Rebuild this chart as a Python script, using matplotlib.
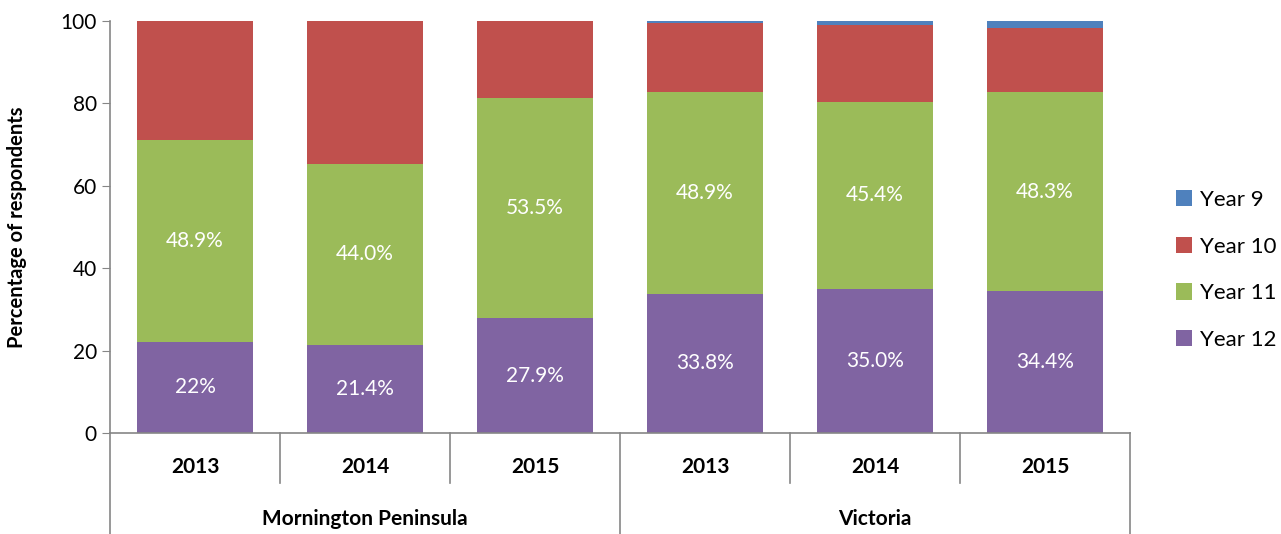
import matplotlib
matplotlib.use("Agg")
import matplotlib.pyplot as plt
import matplotlib.transforms as mtransforms

# Data
groups = ["Mornington Peninsula", "Victoria"]
years = ["2013", "2014", "2015"]
year12 = [22.2, 21.4, 27.9, 33.8, 35.0, 34.4]
year11 = [48.9, 44.0, 53.5, 48.9, 45.4, 48.3]
year10 = [28.9, 34.6, 18.6, 16.7, 18.7, 15.7]
year9 = [0.0, 0.0, 0.0, 0.6, 0.9, 1.6]
year12_labels = ["22%", "21.4%", "27.9%", "33.8%", "35.0%", "34.4%"]
year11_labels = ["48.9%", "44.0%", "53.5%", "48.9%", "45.4%", "48.3%"]

colors = {"Year 9": "#4F81BD", "Year 10": "#C0504D",
          "Year 11": "#9BBB59", "Year 12": "#8064A2"}
axis_col = "#868686"

plt.rcParams["font.family"] = ["Lato", "DejaVu Sans"]

fig = plt.figure(figsize=(12.81, 5.34), dpi=100)
ax = fig.add_axes([110 / 1281, 101 / 534, 1020 / 1281, 412 / 534])

xs = list(range(len(year12)))
width = 0.68
b12 = ax.bar(xs, year12, width, color=colors["Year 12"], label="Year 12")
bottom = year12
b11 = ax.bar(xs, year11, width, bottom=bottom, color=colors["Year 11"], label="Year 11")
bottom = [a + b for a, b in zip(bottom, year11)]
b10 = ax.bar(xs, year10, width, bottom=bottom, color=colors["Year 10"], label="Year 10")
bottom = [a + b for a, b in zip(bottom, year10)]
b9 = ax.bar(xs, year9, width, bottom=bottom, color=colors["Year 9"], label="Year 9")

# Data labels
for x, v, lab in zip(xs, year12, year12_labels):
    ax.text(x, v / 2, lab, ha="center", va="center", color="white", fontsize=15)
for x, b, v, lab in zip(xs, year12, year11, year11_labels):
    ax.text(x, b + v / 2, lab, ha="center", va="center", color="white", fontsize=15)

ax.set_xlim(-0.5, len(xs) - 0.5)
ax.set_ylim(0, 100)
ax.set_yticks(range(0, 101, 20))
ax.tick_params(axis="y", labelsize=15, color=axis_col, length=6, direction="out")
ax.set_xticks([])
ax.set_ylabel("Percentage of respondents", fontsize=14.5, fontweight="bold", labelpad=24)
for s in ["top", "right"]:
    ax.spines[s].set_visible(False)
for s in ["left", "bottom"]:
    ax.spines[s].set_color(axis_col)
    ax.spines[s].set_linewidth(1.2)

# Multi-level category axis
trans = mtransforms.blended_transform_factory(ax.transData, ax.transAxes)
px = 1 / 412  # one pixel in axes fraction (vertical)
for i in range(len(xs) + 1):
    xb = i - 0.5
    low = -101 * px if i % 3 == 0 else -50 * px
    ax.plot([xb, xb], [0, low], color=axis_col, lw=1.2, transform=trans, clip_on=False)
for i, x in enumerate(xs):
    ax.text(x, -34 * px, years[i % 3], transform=trans, ha="center", va="center",
            fontsize=15, fontweight="bold")
for g, name in enumerate(groups):
    ax.text(g * 3 + 1, -86 * px, name, transform=trans, ha="center", va="center",
            fontsize=15, fontweight="bold")

# Legend
ax.legend(handles=[b9, b10, b11, b12], loc="center left", bbox_to_anchor=(1.025, 0.396),
          frameon=False, fontsize=16, handlelength=0.75, handleheight=0.75,
          handletextpad=0.35, labelspacing=1.2)

fig.savefig("out.png", dpi=100)
